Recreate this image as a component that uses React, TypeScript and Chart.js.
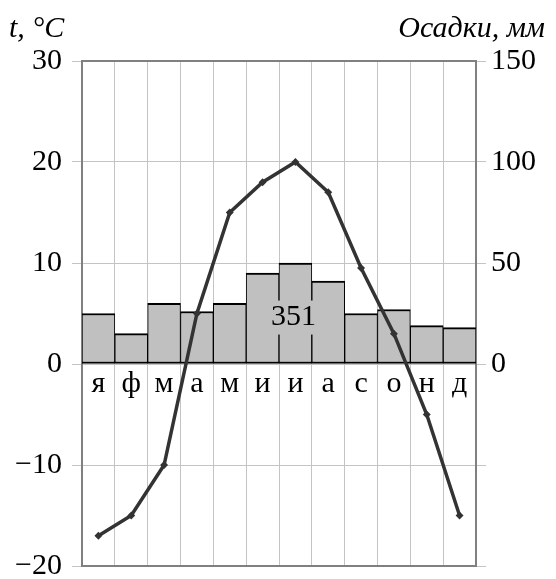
import React, { useEffect, useRef } from "react";
import { Chart, registerables } from "chart.js";

Chart.register(...registerables);

const months = ["я", "ф", "м", "а", "м", "и", "и", "а", "с", "о", "н", "д"];
const temperature = [-17, -15, -10, 5, 15, 18, 20, 17, 9.5, 3, -5, -15];
const precipitation = [25, 15, 30, 26, 30, 45, 50, 41, 25, 27, 19, 18];
const totalPrecip = "351";
const tempTitle = "t, °C";
const precipTitle = "Осадки, мм";

const SERIF = "'Liberation Serif', 'Times New Roman', serif";

const overlay = {
  id: "overlay",
  beforeDatasetsDraw(chart: any) {
    const { ctx, chartArea, scales } = chart;
    ctx.save();
    ctx.strokeStyle = "#808080";
    ctx.lineWidth = 2;
    ctx.strokeRect(chartArea.left, chartArea.top, chartArea.right - chartArea.left, chartArea.bottom - chartArea.top);
    ctx.fillStyle = "#000";
    ctx.font = `30px ${SERIF}`;
    ctx.textAlign = "center";
    ctx.textBaseline = "middle";
    const yLab = scales.y.getPixelForValue(-2);
    months.forEach((m, i) => {
      ctx.fillText(m, scales.x.getPixelForValue(i), yLab);
    });
    ctx.restore();
  },
  afterDatasetsDraw(chart: any) {
    const { ctx, scales } = chart;
    ctx.save();
    ctx.font = `30px ${SERIF}`;
    const cx = scales.x.getPixelForValue(6) - 2;
    const cy = scales.y1.getPixelForValue(23);
    const w = ctx.measureText(totalPrecip).width;
    ctx.fillStyle = "#c0c0c0";
    ctx.fillRect(cx - w / 2 - 4, cy - 17, w + 8, 34);
    ctx.fillStyle = "#000";
    ctx.textAlign = "center";
    ctx.textBaseline = "middle";
    ctx.fillText(totalPrecip, cx, cy);
    ctx.restore();
  },
  afterDraw(chart: any) {
    const { ctx } = chart;
    ctx.save();
    ctx.fillStyle = "#000";
    ctx.textBaseline = "alphabetic";
    ctx.font = `italic 30px ${SERIF}`;
    ctx.textAlign = "left";
    ctx.fillText(tempTitle, 9, 37);
    ctx.font = `italic 30px ${SERIF}`;
    ctx.textAlign = "right";
    ctx.fillText(precipTitle, 545, 37);
    ctx.restore();
  },
};

export default function App() {
  const ref = useRef<HTMLCanvasElement | null>(null);
  useEffect(() => {
    document.body.style.margin = "0";
    const canvas = ref.current;
    if (!canvas) return;
    const chart = new Chart(canvas, {
      type: "bar",
      data: {
        labels: months,
        datasets: [
          {
            type: "line",
            data: temperature,
            yAxisID: "y",
            borderColor: "#333333",
            backgroundColor: "#333333",
            borderWidth: 3.5,
            pointStyle: "rectRot",
            pointRadius: 1.5,
            pointBackgroundColor: "#333333",
            pointBorderColor: "#333333",
            tension: 0,
            order: 0,
          } as any,
          {
            type: "bar",
            data: precipitation,
            yAxisID: "y1",
            backgroundColor: "#c0c0c0",
            borderColor: "#000000",
            borderWidth: { top: 2, left: 1, right: 1, bottom: 2 },
            borderSkipped: false,
            barPercentage: 1,
            categoryPercentage: 1,
            order: 1,
          } as any,
        ],
      },
      options: {
        responsive: false,
        animation: false,
        layout: { padding: { top: 61, bottom: 13, left: 0, right: 0 } },
        plugins: { legend: { display: false }, tooltip: { enabled: false } },
        scales: {
          x: {
            type: "category",
            offset: true,
            grid: { offset: true, color: "#c4c4c4", lineWidth: 1, drawTicks: false },
            border: { display: false },
            ticks: { display: false },
            afterFit: (s: any) => {
              s.height = 0;
              s.paddingLeft = 0;
              s.paddingRight = 0;
            },
          },
          y: {
            position: "left",
            min: -20,
            max: 30,
            ticks: {
              stepSize: 10,
              padding: 10,
              color: "#000",
              font: { family: SERIF, size: 30 },
              callback: (v: any) => (v < 0 ? "\u2212" + Math.abs(v) : String(v)),
            },
            grid: { color: "#c4c4c4", lineWidth: 1, tickLength: 10 },
            border: { display: true, color: "#808080", width: 2 },
            afterFit: (s: any) => {
              s.width = 82;
              s.paddingTop = 0;
              s.paddingBottom = 0;
            },
          },
          y1: {
            position: "right",
            min: -100,
            max: 150,
            ticks: {
              stepSize: 50,
              padding: 5,
              color: "#000",
              font: { family: SERIF, size: 30 },
              callback: (v: any) => (v < 0 ? "" : String(v)),
            },
            grid: { drawOnChartArea: false, color: "#c4c4c4", lineWidth: 1, tickLength: 10 },
            border: { display: true, color: "#808080", width: 2 },
            afterFit: (s: any) => {
              s.width = 80;
              s.paddingTop = 0;
              s.paddingBottom = 0;
            },
          },
        },
      } as any,
      plugins: [overlay],
    });
    return () => chart.destroy();
  }, []);
  return (
    <div style={{ position: "relative", width: 556, height: 579, background: "#fff" }}>
      <canvas ref={ref} width={556} height={579} style={{ display: "block" }} />
    </div>
  );
}
